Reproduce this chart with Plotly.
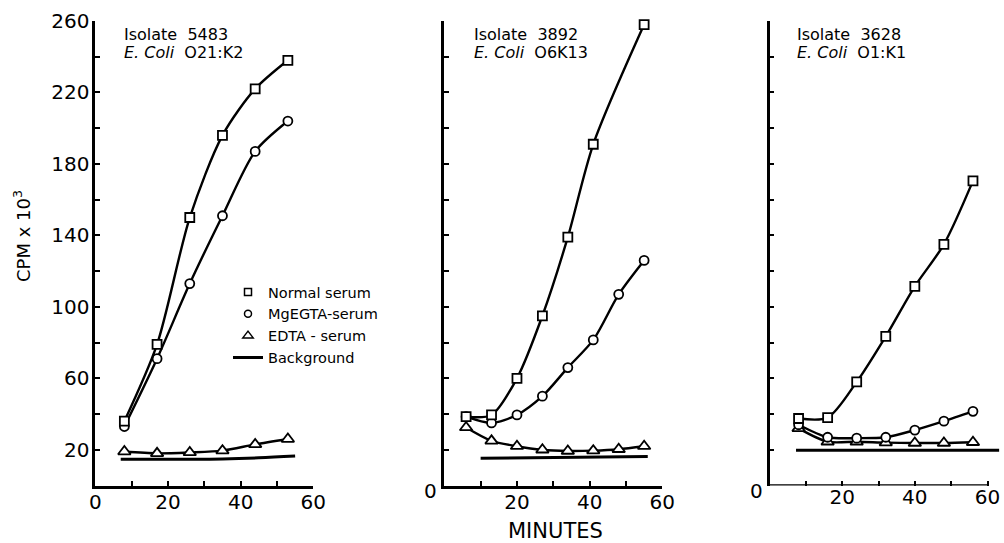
import plotly.graph_objects as go

# ---------------- data ----------------
series_names = ["Normal serum", "MgEGTA-serum", "EDTA - serum", "Background"]

# Panel 1: Isolate 5483, E. coli O21:K2
p1_time = [8, 17, 26, 35, 44, 53]
p1_normal = [36, 79, 150, 196, 222, 238]
p1_mgegta = [33, 71, 113, 151, 187, 204]
p1_edta = [19, 18, 18.5, 19.5, 23, 26]
p1_bg_time = [7, 20, 35, 45, 55]
p1_bg = [14.7, 14.7, 14.9, 15.5, 16.5]

# Panel 2: Isolate 3892, E. coli O6K13
p2_time_normal = [6, 13, 20, 27, 34, 41, 55]
p2_normal = [38.5, 39.5, 60, 95, 139, 191, 258]
p2_time = [6, 13, 20, 27, 34, 41, 48, 55]
p2_mgegta = [38.5, 35, 39.5, 50, 66, 81.5, 107, 126]
p2_edta = [32.5, 25, 22, 20, 19.3, 19.5, 20.3, 22]
p2_bg_time = [10, 56]
p2_bg = [15.2, 16.3]

# Panel 3: Isolate 3628, E. coli O1:K1
p3_time = [8, 16, 24, 32, 40, 48, 56]
p3_normal = [37.5, 38, 58, 83.5, 111.5, 135, 170.5]
p3_mgegta = [34, 27, 26.5, 27, 31, 36, 41.5]
p3_edta = [32, 24.5, 24.5, 24, 23.8, 23.8, 24.2]
p3_bg_time = [7.3, 63.2]
p3_bg = [19.7, 19.7]

panel_titles = ["Isolate\u00a0 5483", "Isolate\u00a0 3892", "Isolate\u00a0 3628"]
panel_strains = ["<i>E. Coli</i>\u00a0 O21:K2", "<i>E. Coli</i>\u00a0 O6K13", "<i>E. Coli</i>\u00a0 O1:K1"]

y_tickvals = list(range(20, 261, 20))
y_ticktext_p1 = [str(v) if (v - 20) % 40 == 0 else "" for v in y_tickvals]
x_tickvals = list(range(0, 61, 10))
x_ticktext_p1 = ["0", "", "20", "", "40", "", "60"]
x_ticktext_other = ["", "", "20", "", "40", "", "60"]

# ---------------- styling ----------------
W, H = 1004, 543
FONT = "DejaVu Sans"
BLACK = "black"
sym = {"Normal serum": ("square", 9), "MgEGTA-serum": ("circle", 9), "EDTA - serum": ("triangle-up", 11)}

fig = go.Figure()

def add_series(xs, ys, name, xa, ya):
    s, size = sym[name]
    fig.add_trace(go.Scatter(
        x=xs, y=ys, mode="lines+markers", name=name, showlegend=False,
        xaxis=xa, yaxis=ya,
        line=dict(color=BLACK, width=2.4, shape="spline", smoothing=0.8),
        marker=dict(symbol=s, size=size, color="white", line=dict(color=BLACK, width=1.8)),
        cliponaxis=False,
    ))

def add_bg(xs, ys, xa, ya):
    fig.add_trace(go.Scatter(
        x=xs, y=ys, mode="lines", name="Background", showlegend=False,
        xaxis=xa, yaxis=ya, line=dict(color=BLACK, width=3, shape="spline"),
    ))

# panel 1
add_bg(p1_bg_time, p1_bg, "x", "y")
add_series(p1_time, p1_edta, "EDTA - serum", "x", "y")
add_series(p1_time, p1_mgegta, "MgEGTA-serum", "x", "y")
add_series(p1_time, p1_normal, "Normal serum", "x", "y")
# panel 2
add_bg(p2_bg_time, p2_bg, "x2", "y2")
add_series(p2_time, p2_edta, "EDTA - serum", "x2", "y2")
add_series(p2_time, p2_mgegta, "MgEGTA-serum", "x2", "y2")
add_series(p2_time_normal, p2_normal, "Normal serum", "x2", "y2")
# panel 3
add_bg(p3_bg_time, p3_bg, "x3", "y3")
add_series(p3_time, p3_edta, "EDTA - serum", "x3", "y3")
add_series(p3_time, p3_mgegta, "MgEGTA-serum", "x3", "y3")
add_series(p3_time, p3_normal, "Normal serum", "x3", "y3")

# legend entries (symbol only)
for name in series_names:
    if name == "Background":
        fig.add_trace(go.Scatter(x=[None], y=[None], mode="lines", name=name,
                                 line=dict(color=BLACK, width=3), showlegend=True))
    else:
        s, size = sym[name]
        fig.add_trace(go.Scatter(x=[None], y=[None], mode="markers", name=name,
                                 marker=dict(symbol=s, size=size - 2, color="white",
                                             line=dict(color=BLACK, width=1.5)),
                                 showlegend=True))

px_per_min = 218.0 / 60.0
x_doms = [
    [95.3 / W, 313.3 / W],
    [444.3 / W, 662.3 / W],
    [769.5 / W, (769.5 + 63.5 * px_per_min) / W],
]
y_dom = [(H - 485.5) / H, (H - 21) / H]

common_x = dict(ticks="inside", ticklen=5, tickwidth=2, tickcolor=BLACK,
                linecolor=BLACK, linewidth=2.5, showgrid=False, zeroline=False,
                tickvals=x_tickvals, tickfont=dict(family=FONT, size=20, color=BLACK),
                automargin=False, fixedrange=True, ticklabelstandoff=-3)
common_y = dict(ticks="inside", ticklen=5, tickwidth=2, tickcolor=BLACK,
                linecolor=BLACK, linewidth=2.5, showgrid=False, zeroline=False,
                tickvals=y_tickvals, range=[0, 260], domain=y_dom, showline=True,
                tickfont=dict(family=FONT, size=20, color=BLACK),
                automargin=False, fixedrange=True, ticklabelstandoff=-1)

fig.update_layout(
    width=W, height=H,
    margin=dict(l=0, r=0, t=0, b=0, pad=0),
    paper_bgcolor="white", plot_bgcolor="white",
    font=dict(family=FONT, color=BLACK),
    xaxis=dict(common_x, domain=x_doms[0], range=[0, 60], anchor="y", showline=True,
               ticktext=x_ticktext_p1),
    xaxis2=dict(common_x, domain=x_doms[1], range=[0, 60], anchor="y2", showline=True,
                ticktext=x_ticktext_other),
    xaxis3=dict(common_x, domain=x_doms[2], range=[0, 63.5], anchor="y3", showline=False,
                ticktext=x_ticktext_other),
    yaxis=dict(common_y, anchor="x", ticktext=y_ticktext_p1),
    yaxis2=dict(common_y, anchor="x2", ticktext=[""] * len(y_tickvals)),
    yaxis3=dict(common_y, anchor="x3", ticktext=[""] * len(y_tickvals)),
    showlegend=True,
    legend=dict(x=228 / W, y=(H - 276) / H, xanchor="left", yanchor="top",
                bgcolor="rgba(0,0,0,0)", borderwidth=0,
                font=dict(family=FONT, size=14.5, color=BLACK),
                itemwidth=30, tracegroupgap=0),
)

# x-axis line of panel 3 (axis ends at 60 minutes, background line runs past it)
fig.add_shape(type="line", xref="x3", yref="y3", x0=0, x1=60, y0=0, y1=0,
              line=dict(color=BLACK, width=2.5))

annots = []
text_left = [122, 471.7, 795]
for i in range(3):
    annots.append(dict(x=text_left[i] / W, y=(H - 35) / H, xref="paper", yref="paper",
                       text=panel_titles[i], showarrow=False, xanchor="left", yanchor="middle",
                       font=dict(family=FONT, size=16, color=BLACK)))
    annots.append(dict(x=text_left[i] / W, y=(H - 53) / H, xref="paper", yref="paper",
                       text=panel_strains[i], showarrow=False, xanchor="left", yanchor="middle",
                       font=dict(family=FONT, size=16, color=BLACK)))
for xa, ya in [("x2", "y2"), ("x3", "y3")]:
    annots.append(dict(x=0, y=0, xref=xa, yref=ya, text="0", showarrow=False,
                       xanchor="right", yanchor="middle", xshift=-5, yshift=-5,
                       font=dict(family=FONT, size=20, color=BLACK)))
annots.append(dict(x=555 / W, y=(H - 530.5) / H, xref="paper", yref="paper", text="MINUTES",
                   showarrow=False, xanchor="center", yanchor="middle",
                   font=dict(family=FONT, size=21, color=BLACK)))
annots.append(dict(x=22 / W, y=(H - 236) / H, xref="paper", yref="paper",
                   text="CPM x 10<sup>3</sup>", textangle=-90, showarrow=False,
                   xanchor="center", yanchor="middle",
                   font=dict(family=FONT, size=18, color=BLACK)))
fig.update_layout(annotations=annots)

# remove the browser's default 8px page margin so the 1004x543 figure fills the window
fig.write_html("out.html", config={"displayModeBar": False},
               post_script="document.body.style.margin='0px';")
